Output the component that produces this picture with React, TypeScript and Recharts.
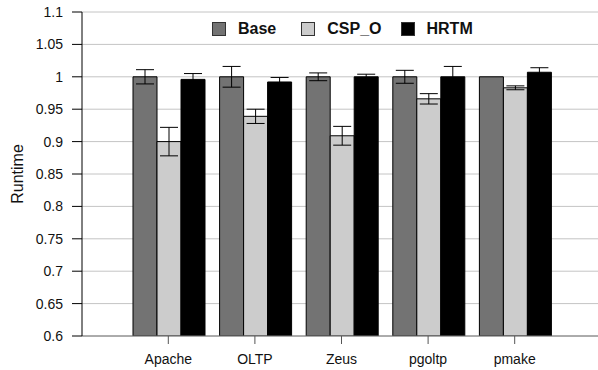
import { Bar, BarChart, CartesianGrid, ErrorBar, XAxis, YAxis } from "recharts";

const categories = ["Apache", "OLTP", "Zeus", "pgoltp", "pmake"];
const baseValues = [1.0, 1.0, 1.0, 1.0, 1.0];
const baseErrors = [0.011, 0.016, 0.006, 0.01, 0];
const cspValues = [0.9, 0.939, 0.909, 0.966, 0.983];
const cspErrors = [0.022, 0.011, 0.0145, 0.008, 0.003];
const hrtmValues = [0.996, 0.992, 1.0, 1.0, 1.007];
const hrtmErrors = [0.009, 0.007, 0.004, 0.016, 0.007];
const yTicks = [0.6, 0.65, 0.7, 0.75, 0.8, 0.85, 0.9, 0.95, 1, 1.05, 1.1];

const COLORS = {
  base: "#737373",
  csp: "#cccccc",
  hrtm: "#000000",
};

const FONT = "'Liberation Sans Narrow', 'Arial Narrow', 'Liberation Sans', Arial, sans-serif";

const data = categories.map((name, i) => ({
  name,
  Base: baseValues[i],
  baseErr: baseErrors[i],
  CSP_O: cspValues[i],
  cspErr: cspErrors[i],
  HRTM: hrtmValues[i],
  hrtmErr: hrtmErrors[i],
}));

const legendItems = [
  { label: "Base", color: COLORS.base, gap: 25 },
  { label: "CSP_O", color: COLORS.csp, gap: 19 },
  { label: "HRTM", color: COLORS.hrtm, gap: 0 },
];

// legend sits inside the plot, above the bars
function ChartLegend() {
  return (
    <div
      style={{
        position: "absolute",
        top: 20,
        left: 212,
        display: "flex",
        alignItems: "center",
        fontFamily: FONT,
      }}
    >
      {legendItems.map((item) => (
        <div key={item.label} style={{ display: "flex", alignItems: "center", marginRight: item.gap }}>
          <div
            style={{
              width: 12,
              height: 12,
              background: item.color,
              border: "1px solid #333",
              marginRight: 12,
            }}
          />
          <span style={{ fontSize: 16, fontWeight: "bold", color: "#111" }}>{item.label}</span>
        </div>
      ))}
    </div>
  );
}

export default function App() {
  return (
    <div style={{ position: "absolute", left: 0, top: 0, width: 598, height: 370, background: "#fff" }}>
      <BarChart
        width={598}
        height={370}
        data={data}
        margin={{ top: 12, right: 0, bottom: 4, left: 0 }}
        barCategoryGap={8}
        barGap={0}
      >
        <CartesianGrid vertical={false} stroke="#c4c4c4" />
        <XAxis
          dataKey="name"
          height={30}
          padding={{ left: 43, right: 40 }}
          tick={{ fill: "#111", fontSize: 14, fontFamily: FONT }}
          tickSize={8}
          tickMargin={10}
          stroke="#777"
          tickLine={{ stroke: "#555" }}
        />
        <YAxis
          domain={[0.6, 1.1]}
          ticks={yTicks}
          width={82}
          tick={{ fill: "#111", fontSize: 14, fontFamily: FONT }}
          tickSize={10}
          tickMargin={9}
          interval={0}
          stroke="#000"
          allowDataOverflow
          label={{
            value: "Runtime",
            angle: -90,
            position: "insideLeft",
            offset: 17,
            style: { fill: "#111", fontSize: 16, fontFamily: FONT, textAnchor: "middle" },
          }}
        />
        <Bar dataKey="Base" fill={COLORS.base} stroke="#000" strokeWidth={1} isAnimationActive={false}>
          <ErrorBar dataKey="baseErr" width={9} stroke="#000" strokeWidth={1} />
        </Bar>
        <Bar dataKey="CSP_O" fill={COLORS.csp} stroke="#000" strokeWidth={1} isAnimationActive={false}>
          <ErrorBar dataKey="cspErr" width={9} stroke="#000" strokeWidth={1} />
        </Bar>
        <Bar dataKey="HRTM" fill={COLORS.hrtm} stroke="#000" strokeWidth={1} isAnimationActive={false}>
          <ErrorBar dataKey="hrtmErr" width={9} stroke="#000" strokeWidth={1} />
        </Bar>
      </BarChart>
      <ChartLegend />
    </div>
  );
}
